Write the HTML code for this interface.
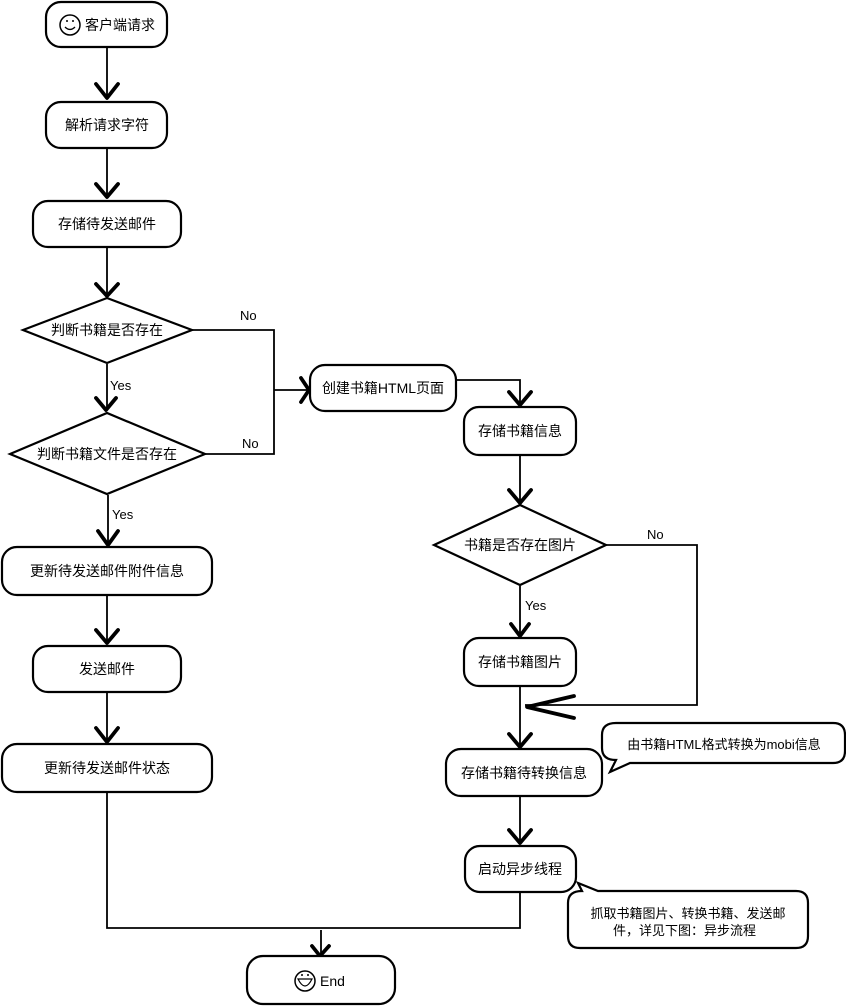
<!DOCTYPE html>
<html><head><meta charset="utf-8"><style>
html,body{margin:0;padding:0;background:#fff;}
svg{display:block}
text{font-family:"Liberation Sans","Noto Sans CJK SC",sans-serif;font-size:14px;fill:#000}
.s{fill:#fff;stroke:#000;stroke-width:2.2}
.l{fill:none;stroke:#000;stroke-width:1.8}
.a{fill:none;stroke:#000;stroke-width:3.8;stroke-linecap:round;stroke-linejoin:round}
.sm{font-size:13px}
</style></head><body>
<svg width="846" height="1006" viewBox="0 0 846 1006" xmlns="http://www.w3.org/2000/svg">
<path class="l" d="M107 48V98M107 149V197M107 248V296M107 364V410M108 495V545M107 596V643M107 693V742"/>
<path class="a" d="M96 84L107 98L118 84M96 184L107 197L118 184M96 284L107 296L118 284M96 398L106 410L116 398M98 531L108 545L118 531M96 630L107 643L118 630M96 728L107 742L118 728"/>
<path class="l" d="M192 330H274V454H205M274 390H308"/>
<path class="a" d="M301 378L309 390L301 402"/>
<path class="l" d="M107 793V928H520V893M321 930V956"/>
<path class="a" d="M312 946L320 956L329 946"/>
<path class="l" d="M456 380H520V405M520 456V503M520 586V636M520 687V747M520 797V843M606 545H697V705H525"/>
<path class="a" d="M509 392L520 405L531 392M509 490L520 503L531 490M511 624L520 636L529 624M509 734L520 747L531 734M509 830L520 843L531 830M574 696L527 707L574 718"/>
<rect class="s" x="46" y="2" width="121" height="45" rx="15"/>
<circle cx="70" cy="25" r="10" class="s" style="stroke-width:1.5"/>
<path d="M65 27Q70 32 75 27" class="l" style="stroke-width:1.3"/><circle cx="67" cy="21" r="1"/><circle cx="73" cy="21" r="1"/>
<text x="85" y="30">客户端请求</text>
<rect class="s" x="46" y="102" width="121" height="46" rx="15"/>
<text x="107" y="130" text-anchor="middle">解析请求字符</text>
<rect class="s" x="33" y="201" width="148" height="46" rx="15"/>
<text x="107" y="229" text-anchor="middle">存储待发送邮件</text>
<polygon class="s" points="23,330 107,298 192,330 107,363"/>
<text x="107" y="335" text-anchor="middle">判断书籍是否存在</text>
<polygon class="s" points="10,454 107,413 205,454 107,494"/>
<text x="107" y="459" text-anchor="middle">判断书籍文件是否存在</text>
<rect class="s" x="2" y="547" width="210" height="48" rx="15"/>
<text x="107" y="576" text-anchor="middle">更新待发送邮件附件信息</text>
<rect class="s" x="33" y="646" width="148" height="46" rx="15"/>
<text x="107" y="674" text-anchor="middle">发送邮件</text>
<rect class="s" x="2" y="744" width="210" height="48" rx="15"/>
<text x="107" y="773" text-anchor="middle">更新待发送邮件状态</text>
<rect class="s" x="247" y="956" width="148" height="48" rx="16"/>
<circle cx="305" cy="981" r="10" class="s" style="stroke-width:1.5"/>
<path d="M298 979H312Q305 993 298 979Z" class="s" style="stroke-width:1.2"/>
<circle cx="302" cy="975" r="1"/><circle cx="308" cy="975" r="1"/>
<text x="320" y="986">End</text>

<rect class="s" x="310" y="365" width="146" height="46" rx="15"/>
<text x="383" y="393" text-anchor="middle">创建书籍HTML页面</text>
<rect class="s" x="464" y="407" width="112" height="48" rx="15"/>
<text x="520" y="436" text-anchor="middle">存储书籍信息</text>
<polygon class="s" points="434,545 520,505 606,545 520,585"/>
<text x="520" y="550" text-anchor="middle">书籍是否存在图片</text>
<rect class="s" x="464" y="638" width="112" height="48" rx="15"/>
<text x="520" y="667" text-anchor="middle">存储书籍图片</text>
<rect class="s" x="446" y="749" width="156" height="47" rx="15"/>
<text x="524" y="778" text-anchor="middle">存储书籍待转换信息</text>
<rect class="s" x="465" y="846" width="111" height="46" rx="15"/>
<text x="520" y="874" text-anchor="middle">启动异步线程</text>

<path class="s" d="M616 723H833Q845 723 845 735V751Q845 763 833 763H630L610 772L616 760Q602 760 602 748V735Q602 723 616 723Z"/>
<text x="724" y="749" text-anchor="middle" class="sm">由书籍HTML格式转换为mobi信息</text>
<path class="s" d="M582 891L578 883L598 891H796Q808 891 808 903V936Q808 948 796 948H580Q568 948 568 936V903Q568 891 582 891Z"/>
<text x="688" y="918" text-anchor="middle" class="sm">抓取书籍图片、转换书籍、发送邮</text>
<text x="613" y="935" class="sm">件，详见下图：异步流程</text>

<text x="240" y="320" class="sm">No</text>
<text x="242" y="448" class="sm">No</text>
<text x="110" y="390" class="sm">Yes</text>
<text x="112" y="519" class="sm">Yes</text>
<text x="647" y="539" class="sm">No</text>
<text x="525" y="610" class="sm">Yes</text>
</svg>
</body></html>
